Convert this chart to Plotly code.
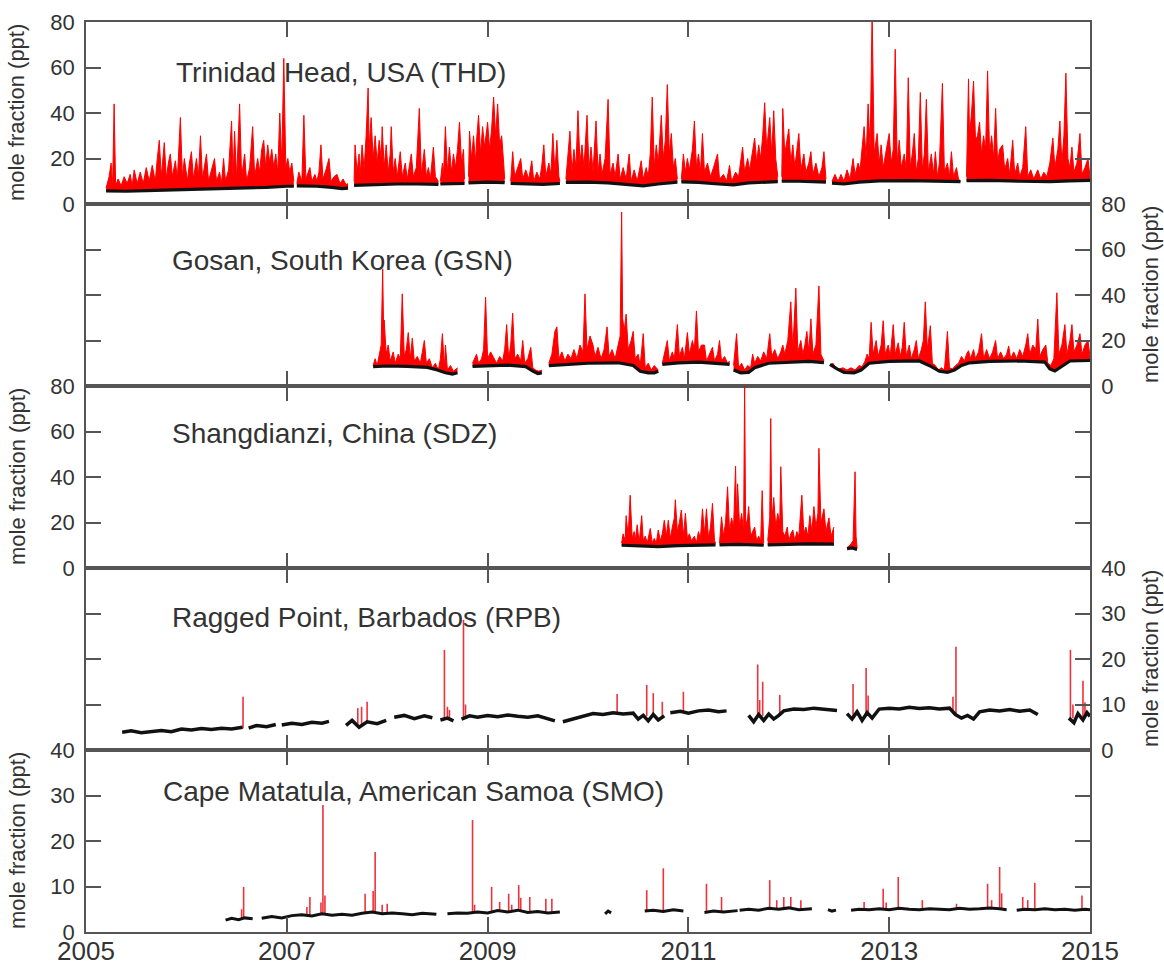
import plotly.graph_objects as go

# ---------------- data (decimal year, mole fraction ppt) ----------------
year_ticks = [2005, 2007, 2009, 2011, 2013, 2015]
site_titles = ["Trinidad Head, USA (THD)", "Gosan, South Korea (GSN)", "Shangdianzi, China (SDZ)",
               "Ragged Point, Barbados (RPB)", "Cape Matatula, American Samoa (SMO)"]
y_max = [80, 80, 80, 40, 40]
y_step = [20, 20, 20, 10, 10]

# Trinidad Head: baseline (black) and full record (red); None = data gap
thd_base = [(2005.20, 5.8), (2005.4, 5.6), (2005.6, 5.9), (2005.8, 6.1), (2006.0, 6.3), (2006.2, 6.5), (2006.4, 6.6),
            (2006.6, 6.9), (2006.8, 7.3), (2007.0, 7.8), (2007.07, 7.8), None,
            (2007.10, 8.0), (2007.3, 7.8), (2007.45, 7.3), (2007.55, 6.8), (2007.61, 7.0), None,
            (2007.67, 8.2), (2007.9, 8.6), (2008.1, 8.8), (2008.3, 8.8), (2008.51, 8.6), None,
            (2008.53, 8.8), (2008.65, 8.8), (2008.77, 9.0), None,
            (2008.81, 9.3), (2009.0, 9.6), (2009.17, 9.4), None,
            (2009.23, 9.0), (2009.4, 8.8), (2009.55, 8.6), (2009.72, 9.0), None,
            (2009.78, 9.5), (2010.0, 9.6), (2010.2, 9.3), (2010.4, 8.6), (2010.55, 8.0), (2010.7, 8.8), (2010.89, 9.6), None,
            (2010.93, 9.7), (2011.1, 9.5), (2011.3, 8.8), (2011.45, 8.4), (2011.6, 9.3), (2011.89, 9.8), None,
            (2011.93, 10.0), (2012.1, 10.0), (2012.37, 9.6), None,
            (2012.43, 9.2), (2012.55, 8.8), (2012.7, 9.6), (2012.9, 10.2), (2013.2, 10.3), (2013.5, 10.0), (2013.71, 9.8), None,
            (2013.77, 10.3), (2014.0, 10.4), (2014.3, 10.0), (2014.6, 9.8), (2014.8, 10.2), (2015.0, 10.4)]

thd_red = [(2005.20, 7), (2005.23, 12), (2005.25, 18), (2005.265, 8), (2005.28, 44), (2005.295, 8), (2005.32, 11),
           (2005.35, 8), (2005.38, 12), (2005.41, 9), (2005.44, 13), (2005.46, 8), (2005.48, 15), (2005.51, 9),
           (2005.54, 14), (2005.57, 9), (2005.60, 16), (2005.63, 10), (2005.66, 17), (2005.69, 10), (2005.71, 20),
           (2005.73, 28), (2005.75, 12), (2005.78, 27), (2005.80, 11), (2005.82, 18), (2005.84, 22), (2005.86, 12),
           (2005.89, 19), (2005.91, 11), (2005.94, 38), (2005.96, 12), (2005.98, 20), (2006.01, 10), (2006.03, 18),
           (2006.05, 23), (2006.07, 11), (2006.10, 20), (2006.12, 12), (2006.14, 30), (2006.16, 11), (2006.18, 17),
           (2006.20, 22), (2006.22, 10), (2006.25, 15), (2006.28, 20), (2006.30, 10), (2006.33, 14), (2006.35, 9),
           (2006.37, 20), (2006.39, 10), (2006.42, 15), (2006.45, 36.5), (2006.465, 12), (2006.48, 32), (2006.50, 11),
           (2006.53, 44), (2006.55, 12), (2006.58, 22), (2006.60, 10), (2006.63, 16), (2006.66, 34), (2006.68, 12),
           (2006.71, 20), (2006.73, 14), (2006.75, 24), (2006.77, 28), (2006.79, 16), (2006.81, 26), (2006.83, 18),
           (2006.85, 24), (2006.87, 16), (2006.89, 22), (2006.91, 14), (2006.93, 40), (2006.95, 18), (2006.97, 64),
           (2006.99, 16), (2007.01, 20), (2007.03, 14), (2007.05, 18), (2007.07, 10), None,
           (2007.10, 9), (2007.12, 14), (2007.15, 10), (2007.17, 39), (2007.19, 11), (2007.21, 14), (2007.23, 16),
           (2007.25, 10), (2007.28, 13), (2007.30, 10), (2007.32, 14), (2007.34, 26), (2007.36, 11), (2007.39, 15),
           (2007.42, 20), (2007.44, 10), (2007.47, 12), (2007.50, 13), (2007.53, 9), (2007.56, 11), (2007.59, 8.5),
           (2007.61, 9), None,
           (2007.67, 10), (2007.68, 26), (2007.70, 14), (2007.72, 22), (2007.73, 12), (2007.75, 26), (2007.77, 15),
           (2007.79, 30), (2007.81, 51), (2007.82, 25), (2007.84, 38), (2007.86, 20), (2007.88, 30), (2007.90, 18),
           (2007.92, 28), (2007.94, 20), (2007.95, 34), (2007.97, 16), (2007.99, 26), (2008.01, 14), (2008.03, 22),
           (2008.04, 34), (2008.06, 14), (2008.08, 20), (2008.10, 12), (2008.13, 23), (2008.15, 12), (2008.18, 18),
           (2008.20, 11), (2008.22, 17), (2008.24, 22), (2008.26, 12), (2008.29, 16), (2008.32, 42), (2008.34, 13),
           (2008.37, 24), (2008.39, 12), (2008.41, 16), (2008.43, 11), (2008.46, 25), (2008.48, 12), (2008.51, 10), None,
           (2008.53, 10), (2008.55, 18), (2008.56, 12), (2008.58, 34), (2008.60, 14), (2008.62, 25), (2008.64, 14),
           (2008.66, 22), (2008.68, 16), (2008.70, 24), (2008.72, 36), (2008.74, 18), (2008.76, 24), (2008.77, 11), None,
           (2008.81, 12), (2008.82, 32), (2008.84, 20), (2008.86, 30), (2008.88, 18), (2008.89, 28), (2008.91, 39),
           (2008.93, 22), (2008.95, 34), (2008.97, 25), (2009.00, 36), (2009.02, 24), (2009.04, 33), (2009.06, 47),
           (2009.08, 30), (2009.10, 44), (2009.12, 26), (2009.14, 30), (2009.16, 18), (2009.17, 11), None,
           (2009.23, 10), (2009.25, 23), (2009.27, 12), (2009.30, 16), (2009.33, 20), (2009.35, 11), (2009.38, 15),
           (2009.41, 11), (2009.44, 19), (2009.46, 10), (2009.49, 14), (2009.52, 11), (2009.54, 17), (2009.56, 26),
           (2009.58, 12), (2009.61, 18), (2009.63, 13), (2009.65, 31), (2009.67, 14), (2009.69, 28), (2009.71, 12),
           (2009.72, 10), None,
           (2009.78, 11), (2009.80, 22), (2009.82, 32), (2009.84, 14), (2009.86, 24), (2009.88, 16), (2009.90, 41),
           (2009.92, 18), (2009.94, 26), (2009.96, 16), (2009.99, 39), (2010.01, 15), (2010.03, 25), (2010.05, 14),
           (2010.08, 36.5), (2010.10, 14), (2010.12, 22), (2010.14, 13), (2010.17, 20), (2010.20, 46), (2010.22, 13),
           (2010.25, 18), (2010.27, 12), (2010.30, 22), (2010.32, 11), (2010.35, 16), (2010.38, 11), (2010.41, 22),
           (2010.43, 10), (2010.46, 15), (2010.49, 10), (2010.53, 19), (2010.55, 11), (2010.58, 16), (2010.60, 12),
           (2010.62, 22), (2010.64, 47), (2010.66, 16), (2010.68, 26), (2010.70, 18), (2010.73, 39), (2010.75, 20),
           (2010.77, 28), (2010.79, 52.5), (2010.81, 22), (2010.83, 31), (2010.85, 16), (2010.87, 20), (2010.89, 11), None,
           (2010.93, 11), (2010.95, 22), (2010.97, 14), (2010.99, 20), (2011.01, 15), (2011.04, 24), (2011.06, 36.5),
           (2011.08, 16), (2011.10, 22), (2011.12, 14), (2011.14, 31), (2011.16, 14), (2011.19, 18), (2011.22, 12),
           (2011.25, 16), (2011.29, 22), (2011.31, 11), (2011.35, 13), (2011.38, 10), (2011.41, 17), (2011.43, 10),
           (2011.47, 14), (2011.50, 12), (2011.54, 25), (2011.56, 14), (2011.59, 20), (2011.61, 15), (2011.64, 24),
           (2011.66, 29), (2011.68, 18), (2011.70, 26), (2011.72, 20), (2011.74, 30), (2011.76, 44.5), (2011.78, 24),
           (2011.81, 38), (2011.83, 22), (2011.85, 41), (2011.87, 20), (2011.89, 12), None,
           (2011.93, 12), (2011.94, 42), (2011.96, 22), (2011.98, 28), (2012.00, 33), (2012.02, 18), (2012.04, 26),
           (2012.06, 16), (2012.08, 24), (2012.10, 31), (2012.12, 15), (2012.15, 22), (2012.17, 14), (2012.20, 18),
           (2012.22, 23), (2012.24, 13), (2012.27, 18), (2012.30, 12), (2012.33, 16), (2012.35, 23), (2012.37, 11), None,
           (2012.43, 10), (2012.46, 13), (2012.49, 10), (2012.52, 13), (2012.55, 10), (2012.58, 15), (2012.61, 11),
           (2012.64, 20), (2012.66, 13), (2012.69, 18), (2012.71, 15), (2012.73, 24), (2012.75, 34), (2012.77, 20),
           (2012.79, 44), (2012.81, 24), (2012.83, 85), (2012.85, 22), (2012.88, 31), (2012.90, 18), (2012.92, 26),
           (2012.94, 16), (2012.97, 24), (2013.00, 31), (2013.02, 18), (2013.04, 24), (2013.06, 68), (2013.08, 18),
           (2013.10, 28), (2013.12, 16), (2013.15, 22), (2013.17, 15), (2013.19, 55.5), (2013.21, 16), (2013.23, 22),
           (2013.25, 31), (2013.27, 14), (2013.29, 20), (2013.31, 49), (2013.33, 15), (2013.35, 22), (2013.37, 46),
           (2013.39, 14), (2013.42, 22), (2013.44, 13), (2013.46, 23), (2013.48, 12), (2013.50, 18), (2013.53, 53),
           (2013.55, 14), (2013.58, 18), (2013.60, 12), (2013.62, 23), (2013.64, 12), (2013.67, 16), (2013.69, 11),
           (2013.71, 10), None,
           (2013.77, 12), (2013.78, 36), (2013.79, 55), (2013.80, 30), (2013.82, 40), (2013.84, 54), (2013.86, 28),
           (2013.88, 30), (2013.90, 36), (2013.92, 22), (2013.94, 30), (2013.96, 24), (2013.98, 58.5), (2014.00, 22),
           (2014.02, 30), (2014.04, 20), (2014.06, 42), (2014.08, 18), (2014.10, 24), (2014.13, 26), (2014.15, 15),
           (2014.18, 20), (2014.20, 13), (2014.23, 28), (2014.25, 13), (2014.28, 18), (2014.30, 12), (2014.33, 16),
           (2014.36, 34), (2014.38, 12), (2014.41, 15), (2014.44, 11), (2014.48, 15), (2014.51, 11), (2014.54, 14),
           (2014.57, 12), (2014.60, 18), (2014.63, 29), (2014.65, 16), (2014.68, 24), (2014.70, 36.5), (2014.72, 18),
           (2014.74, 30), (2014.76, 57.5), (2014.78, 20), (2014.80, 16), (2014.82, 25), (2014.84, 14), (2014.87, 18),
           (2014.90, 31), (2014.92, 13), (2014.95, 16), (2014.98, 20), (2015.00, 12)]

# Gosan
gsn_base = [(2007.86, 8.5), (2008.0, 8.8), (2008.2, 8.6), (2008.4, 8.2), (2008.5, 7.0), (2008.58, 5.8), (2008.65, 5.2),
            (2008.70, 5.8), None,
            (2008.85, 8.6), (2009.0, 9.0), (2009.2, 9.2), (2009.38, 8.5), (2009.45, 6.5), (2009.5, 5.5), (2009.54, 5.8), None,
            (2009.61, 9.0), (2009.8, 9.6), (2010.0, 10.0), (2010.3, 10.2), (2010.45, 9.0), (2010.52, 6.5), (2010.6, 5.8),
            (2010.66, 5.8), (2010.70, 6.5), None,
            (2010.74, 9.5), (2010.9, 10.2), (2011.1, 10.5), (2011.3, 10.0), (2011.41, 9.5), None,
            (2011.45, 7.0), (2011.52, 5.8), (2011.6, 6.0), (2011.66, 8.0), (2011.8, 10.0), (2012.0, 10.5), (2012.2, 10.8),
            (2012.35, 10.3), None,
            (2012.41, 9.5), (2012.48, 7.5), (2012.55, 6.0), (2012.65, 5.8), (2012.72, 7.0), (2012.8, 10.0), (2013.0, 10.8),
            (2013.3, 11.0), (2013.42, 8.5), (2013.5, 6.5), (2013.58, 6.0), (2013.65, 7.0), (2013.72, 9.0), (2013.8, 10.2),
            (2014.0, 10.8), (2014.3, 11.0), (2014.55, 10.5), (2014.6, 7.5), (2014.65, 6.6), (2014.7, 8.0), (2014.8, 11.0),
            (2015.0, 11.2)]

gsn_red = [(2007.86, 9), (2007.88, 12), (2007.90, 9), (2007.92, 14), (2007.94, 18), (2007.955, 51.5), (2007.965, 22),
           (2007.97, 29), (2007.99, 14), (2008.01, 18), (2008.03, 11), (2008.06, 15), (2008.08, 10), (2008.11, 14),
           (2008.13, 12), (2008.15, 40.5), (2008.17, 13), (2008.19, 16), (2008.21, 23.5), (2008.23, 12), (2008.25, 21),
           (2008.27, 11), (2008.30, 13), (2008.33, 10), (2008.37, 20), (2008.39, 10), (2008.42, 12), (2008.45, 8),
           (2008.48, 10), (2008.51, 7), (2008.53, 12), (2008.55, 23), (2008.57, 8), (2008.58, 18), (2008.60, 7),
           (2008.63, 9), (2008.66, 6.5), (2008.70, 8), None,
           (2008.85, 10), (2008.87, 12), (2008.89, 14), (2008.91, 10), (2008.94, 12), (2008.96, 16), (2008.98, 39),
           (2009.00, 12), (2009.03, 15), (2009.06, 12.5), (2009.09, 10), (2009.12, 13), (2009.15, 11), (2009.17, 16),
           (2009.19, 27), (2009.21, 12), (2009.23, 18), (2009.25, 32), (2009.27, 12), (2009.30, 14), (2009.33, 11),
           (2009.35, 20), (2009.37, 10), (2009.40, 12), (2009.43, 17), (2009.45, 8), (2009.48, 7), (2009.51, 6.5),
           (2009.54, 7), None,
           (2009.61, 10), (2009.64, 14), (2009.67, 24), (2009.69, 26), (2009.71, 12), (2009.74, 15), (2009.77, 11),
           (2009.80, 14), (2009.83, 12), (2009.86, 16), (2009.89, 12), (2009.92, 18), (2009.95, 15), (2009.97, 40.5),
           (2009.99, 16), (2010.02, 22), (2010.05, 18), (2010.07, 13), (2010.10, 17), (2010.13, 12), (2010.16, 16),
           (2010.19, 26), (2010.21, 13), (2010.24, 16), (2010.27, 12), (2010.30, 18), (2010.32, 22), (2010.335, 76.5),
           (2010.345, 30), (2010.36, 24), (2010.38, 31.6), (2010.40, 16), (2010.43, 20), (2010.45, 24), (2010.47, 12),
           (2010.50, 14), (2010.52, 9), (2010.55, 23), (2010.57, 8), (2010.60, 10), (2010.63, 7), (2010.66, 9),
           (2010.70, 7), None,
           (2010.74, 10), (2010.76, 14), (2010.79, 20), (2010.81, 11), (2010.84, 15), (2010.86, 12), (2010.89, 27),
           (2010.91, 13), (2010.94, 17), (2010.96, 12), (2010.99, 23.5), (2011.01, 14), (2011.04, 20), (2011.06, 16),
           (2011.08, 33), (2011.10, 15), (2011.13, 18), (2011.16, 18), (2011.18, 11), (2011.21, 14), (2011.24, 17),
           (2011.26, 11), (2011.29, 14), (2011.31, 20), (2011.33, 11), (2011.36, 13), (2011.39, 10), (2011.41, 11), None,
           (2011.45, 9), (2011.48, 23), (2011.50, 8), (2011.53, 10), (2011.56, 7), (2011.59, 9), (2011.62, 8),
           (2011.64, 14), (2011.66, 10), (2011.69, 13), (2011.72, 11), (2011.75, 15), (2011.78, 12), (2011.81, 23),
           (2011.83, 13), (2011.86, 16), (2011.89, 12), (2011.92, 15), (2011.94, 18), (2011.96, 14), (2011.99, 20),
           (2012.02, 37), (2012.04, 16), (2012.07, 43), (2012.09, 15), (2012.12, 20), (2012.14, 14), (2012.16, 18),
           (2012.18, 24), (2012.20, 15), (2012.22, 29.5), (2012.24, 14), (2012.27, 18), (2012.30, 44), (2012.32, 14),
           (2012.35, 11), None,
           (2012.41, 9), (2012.44, 10), (2012.47, 8), (2012.50, 7.5), (2012.54, 8), (2012.58, 7), (2012.62, 8),
           (2012.66, 7), (2012.70, 9), (2012.73, 8.5), (2012.76, 11), (2012.78, 14), (2012.80, 12), (2012.82, 28),
           (2012.84, 14), (2012.87, 20), (2012.89, 13), (2012.92, 18), (2012.94, 28.7), (2012.96, 14), (2012.99, 18),
           (2013.01, 13), (2013.04, 27), (2013.06, 14), (2013.09, 19), (2013.11, 13), (2013.13, 17), (2013.15, 28),
           (2013.17, 13), (2013.20, 18), (2013.22, 12), (2013.25, 16), (2013.27, 20), (2013.29, 12), (2013.32, 16),
           (2013.34, 20), (2013.36, 37), (2013.38, 16), (2013.41, 26.5), (2013.43, 10), (2013.46, 9), (2013.49, 7),
           (2013.52, 8), (2013.55, 7), (2013.58, 24), (2013.60, 8), (2013.63, 7.5), (2013.66, 9), (2013.69, 10),
           (2013.72, 13), (2013.75, 11), (2013.77, 14), (2013.79, 15.5), (2013.81, 12), (2013.84, 16), (2013.86, 12),
           (2013.89, 15), (2013.92, 23), (2013.94, 12), (2013.97, 16), (2014.00, 12), (2014.03, 15), (2014.06, 20),
           (2014.08, 12), (2014.11, 15), (2014.14, 12), (2014.17, 14), (2014.19, 17.6), (2014.21, 12), (2014.24, 15),
           (2014.27, 12), (2014.30, 16), (2014.33, 13), (2014.36, 18), (2014.38, 23), (2014.40, 14), (2014.43, 18),
           (2014.46, 16), (2014.48, 29.4), (2014.50, 13), (2014.53, 16), (2014.56, 18), (2014.58, 10), (2014.61, 9),
           (2014.64, 12), (2014.67, 41), (2014.69, 14), (2014.72, 18), (2014.75, 27), (2014.77, 14), (2014.80, 20),
           (2014.82, 27), (2014.84, 15), (2014.87, 18), (2014.90, 23), (2014.92, 14), (2014.95, 18), (2014.98, 20),
           (2015.00, 13)]

# Shangdianzi
sdz_base = [(2010.335, 10.0), (2010.5, 9.8), (2010.7, 9.4), (2010.9, 9.8), (2011.1, 10.0), (2011.27, 10.2), None,
            (2011.31, 10.2), (2011.5, 10.4), (2011.75, 10.0), None,
            (2011.79, 10.2), (2012.0, 10.5), (2012.2, 10.6), (2012.45, 10.5), None,
            (2012.58, 8.5), (2012.63, 8.8), (2012.68, 8.2)]

sdz_red = [(2010.335, 11), (2010.35, 15), (2010.37, 12), (2010.38, 23), (2010.40, 14), (2010.42, 32), (2010.44, 13),
           (2010.46, 16), (2010.47, 12), (2010.49, 19), (2010.51, 11), (2010.535, 23), (2010.55, 12), (2010.57, 14),
           (2010.59, 11), (2010.62, 17.4), (2010.64, 11), (2010.66, 13), (2010.68, 11), (2010.70, 16.7), (2010.72, 12),
           (2010.74, 15), (2010.76, 21), (2010.78, 14), (2010.80, 21), (2010.82, 13), (2010.84, 18), (2010.86, 22),
           (2010.87, 30), (2010.89, 16), (2010.91, 20), (2010.93, 25.5), (2010.95, 14), (2010.97, 24), (2010.99, 13),
           (2011.01, 15), (2011.03, 12), (2011.06, 14), (2011.08, 11), (2011.10, 16), (2011.12, 13), (2011.14, 26),
           (2011.16, 15), (2011.18, 26), (2011.20, 13), (2011.22, 18), (2011.24, 28.4), (2011.26, 12), (2011.27, 11), None,
           (2011.31, 11), (2011.33, 22.5), (2011.35, 14), (2011.37, 20), (2011.39, 35.7), (2011.41, 16), (2011.43, 22),
           (2011.45, 18), (2011.47, 44.8), (2011.48, 20), (2011.49, 37), (2011.51, 18), (2011.53, 24), (2011.55, 16),
           (2011.56, 82), (2011.57, 18), (2011.59, 22), (2011.60, 27), (2011.62, 14), (2011.64, 16), (2011.66, 18),
           (2011.68, 12), (2011.70, 14), (2011.72, 12), (2011.735, 34), (2011.75, 11), None,
           (2011.79, 12), (2011.81, 22), (2011.82, 65.7), (2011.83, 20), (2011.85, 31), (2011.87, 18), (2011.89, 24),
           (2011.91, 20), (2011.92, 44.5), (2011.94, 16), (2011.96, 14), (2011.985, 18), (2012.00, 12), (2012.02, 15),
           (2012.04, 16.7), (2012.06, 12), (2012.08, 16), (2012.10, 14), (2012.13, 32), (2012.15, 15), (2012.17, 18),
           (2012.19, 14), (2012.21, 23), (2012.23, 16), (2012.25, 27), (2012.27, 18), (2012.29, 24), (2012.30, 52.6),
           (2012.32, 20), (2012.35, 26), (2012.37, 16), (2012.40, 22), (2012.42, 14), (2012.45, 18), None,
           (2012.58, 9), (2012.61, 10), (2012.64, 12), (2012.66, 42.3), (2012.67, 14), (2012.68, 9)]

# Ragged Point: baseline and pollution events (year, low, high)
rpb_base = [(2005.36, 3.9), (2005.45, 4.2), (2005.55, 3.8), (2005.65, 4.1), (2005.75, 4.3), (2005.85, 4.0), (2005.95, 4.6),
            (2006.05, 4.4), (2006.15, 4.7), (2006.25, 4.5), (2006.35, 4.8), (2006.45, 4.6), (2006.56, 5.0), None,
            (2006.62, 4.8), (2006.7, 5.4), (2006.8, 5.1), (2006.89, 5.6), None,
            (2006.95, 5.5), (2007.05, 5.9), (2007.15, 5.6), (2007.25, 6.1), (2007.35, 5.9), (2007.42, 6.3), None,
            (2007.59, 5.4), (2007.65, 6.5), (2007.72, 5.0), (2007.8, 6.2), (2007.9, 5.8), (2007.99, 6.5), None,
            (2008.07, 7.2), (2008.17, 7.6), (2008.27, 6.9), (2008.37, 7.5), (2008.45, 7.1), None,
            (2008.53, 6.6), (2008.6, 7.0), (2008.66, 6.4), None,
            (2008.74, 6.8), (2008.82, 7.5), (2008.9, 7.2), (2009.0, 7.6), (2009.1, 7.3), (2009.2, 7.7), (2009.3, 7.4),
            (2009.4, 7.2), (2009.5, 7.5), (2009.6, 6.9), (2009.67, 6.4), None,
            (2009.75, 6.2), (2009.85, 6.8), (2009.95, 7.4), (2010.05, 8.0), (2010.15, 7.8), (2010.25, 8.2), (2010.35, 7.9),
            (2010.45, 8.1), (2010.5, 6.8), (2010.55, 7.6), (2010.6, 6.4), (2010.65, 7.8), (2010.7, 6.6), (2010.76, 7.5), None,
            (2010.82, 8.2), (2010.92, 8.5), (2011.0, 8.1), (2011.1, 8.6), (2011.2, 8.8), (2011.3, 8.4), (2011.38, 8.6), None,
            (2011.6, 7.6), (2011.65, 6.2), (2011.7, 7.8), (2011.75, 6.5), (2011.8, 7.9), (2011.85, 6.8), (2011.9, 7.6),
            (2011.95, 8.6), (2012.05, 9.0), (2012.15, 8.9), (2012.25, 9.2), (2012.35, 9.0), (2012.48, 8.7), None,
            (2012.58, 8.0), (2012.63, 6.8), (2012.68, 8.4), (2012.73, 6.5), (2012.78, 8.2), (2012.83, 7.0), (2012.9, 9.0),
            (2013.0, 9.2), (2013.1, 9.0), (2013.2, 9.4), (2013.3, 9.1), (2013.4, 9.3), (2013.5, 9.0), (2013.6, 9.2),
            (2013.66, 7.8), (2013.72, 7.0), (2013.78, 7.6), (2013.84, 6.8), (2013.9, 8.4), (2014.0, 8.8), (2014.1, 8.6),
            (2014.2, 8.9), (2014.3, 8.5), (2014.4, 8.8), (2014.48, 7.8), None,
            (2014.79, 7.0), (2014.84, 6.0), (2014.88, 8.0), (2014.93, 6.6), (2014.97, 8.2), (2015.0, 7.4)]

rpb_events = [(2006.564, 4.8, 11.7), (2007.707, 5.5, 9.2), (2007.745, 5.5, 9.5), (2007.80, 5.8, 10.6),
              (2008.57, 6.6, 22.0), (2008.60, 6.6, 9.5), (2008.62, 6.6, 8.8), (2008.76, 6.8, 28.6), (2008.78, 6.8, 10.0),
              (2010.29, 8.0, 12.3), (2010.585, 7.5, 14.3), (2010.65, 7.5, 12.5), (2010.74, 7.5, 10.6),
              (2010.95, 8.4, 12.8), (2011.69, 7.5, 18.8), (2011.71, 7.5, 11.0), (2011.74, 7.5, 15.0),
              (2011.91, 7.6, 12.1), (2012.64, 7.5, 14.5), (2012.77, 7.5, 18.0), (2012.79, 7.5, 12.0),
              (2013.635, 8.0, 11.7), (2013.665, 8.0, 22.7), (2014.805, 7.0, 22.0), (2014.83, 7.0, 10.0),
              (2014.93, 7.0, 15.2), (2014.95, 7.0, 10.5)]

# Cape Matatula
smo_base = [(2006.39, 2.6), (2006.45, 3.0), (2006.52, 2.7), (2006.58, 3.1), (2006.66, 2.9), None,
            (2006.75, 3.0), (2006.85, 3.4), (2006.95, 3.1), (2007.05, 3.6), (2007.15, 3.8), (2007.25, 3.5), (2007.35, 4.0),
            (2007.45, 3.7), (2007.55, 3.9), (2007.65, 3.7), (2007.75, 4.1), (2007.85, 4.4), (2007.95, 4.0), (2008.05, 4.2),
            (2008.15, 4.0), (2008.25, 3.8), (2008.35, 4.1), (2008.49, 3.9), None,
            (2008.60, 4.0), (2008.7, 4.2), (2008.8, 4.1), (2008.9, 4.4), (2009.0, 4.2), (2009.1, 4.7), (2009.2, 4.4),
            (2009.3, 4.8), (2009.4, 4.3), (2009.5, 4.5), (2009.6, 4.2), (2009.72, 4.4), None,
            (2010.17, 4.0), (2010.2, 4.6), (2010.23, 4.2), None,
            (2010.565, 4.6), (2010.65, 4.8), (2010.75, 4.5), (2010.85, 4.9), (2010.95, 4.6), None,
            (2011.16, 4.3), (2011.25, 4.6), (2011.35, 4.4), (2011.49, 4.7), None,
            (2011.51, 4.8), (2011.6, 5.0), (2011.7, 4.8), (2011.8, 5.2), (2011.9, 5.0), (2012.0, 5.3), (2012.1, 4.9),
            (2012.23, 5.1), None,
            (2012.39, 4.9), (2012.43, 4.6), (2012.47, 4.8), None,
            (2012.62, 4.8), (2012.7, 5.0), (2012.8, 4.9), (2012.9, 5.1), (2013.0, 4.9), (2013.1, 5.2), (2013.2, 5.0),
            (2013.3, 4.9), (2013.4, 5.1), (2013.5, 5.0), (2013.6, 4.9), (2013.7, 5.2), (2013.8, 5.0), (2013.9, 5.1),
            (2014.0, 5.3), (2014.1, 5.1), (2014.17, 4.9), None,
            (2014.27, 4.8), (2014.35, 5.0), (2014.45, 4.9), (2014.55, 5.1), (2014.65, 4.9), (2014.75, 5.0), (2014.85, 4.8),
            (2014.95, 5.0), (2015.0, 4.9)]

smo_events = [(2006.55, 3.0, 5.0), (2006.57, 3.0, 9.9), (2007.20, 3.6, 5.5), (2007.23, 3.6, 7.7), (2007.34, 3.8, 6.5),
              (2007.36, 3.8, 27.9), (2007.38, 3.8, 8.0), (2007.78, 4.0, 8.4), (2007.86, 4.2, 9.0), (2007.88, 4.2, 17.6),
              (2007.95, 4.0, 6.0), (2008.0, 4.0, 6.2), (2008.85, 4.3, 24.6), (2008.87, 4.3, 6.0), (2009.04, 4.4, 9.9),
              (2009.12, 4.6, 6.6), (2009.21, 4.4, 8.4), (2009.24, 4.4, 6.0), (2009.31, 4.6, 10.3), (2009.33, 4.6, 7.5),
              (2009.42, 4.3, 7.7), (2009.58, 4.2, 7.3), (2009.64, 4.2, 7.3), (2010.585, 4.6, 9.2), (2010.75, 4.5, 14.0),
              (2011.18, 4.3, 10.6), (2011.33, 4.4, 7.7), (2011.81, 5.0, 11.4), (2011.88, 5.0, 7.0), (2011.95, 5.0, 7.7),
              (2012.02, 5.0, 7.7), (2012.12, 5.0, 7.0), (2012.75, 4.9, 6.6), (2012.94, 4.9, 9.5), (2012.97, 4.9, 6.5),
              (2013.09, 5.0, 12.1), (2013.33, 4.9, 7.0), (2013.67, 5.0, 6.2), (2013.98, 5.1, 10.6), (2014.02, 5.2, 7.0),
              (2014.10, 5.1, 14.3), (2014.12, 5.1, 8.5), (2014.33, 5.0, 7.7), (2014.38, 5.0, 7.0), (2014.45, 4.9, 10.8),
              (2014.92, 4.9, 8.0)]

# ---------------- helpers ----------------
RED = "rgb(255,0,0)"
SPIKE = "rgb(238,50,60)"
BLACK = "#111111"
AXC = "#555555"
TXT = "#333333"
FONT = "Liberation Sans, Arial, Helvetica, sans-serif"


def segments(pairs):
    segs, cur = [], []
    for p in pairs:
        if p is None:
            if cur:
                segs.append(cur)
            cur = []
        else:
            cur.append(p)
    if cur:
        segs.append(cur)
    return segs


def flat(pairs):
    xs, ys = [], []
    for p in pairs:
        if p is None:
            xs.append(None)
            ys.append(None)
        else:
            xs.append(p[0])
            ys.append(p[1])
    return xs, ys


fig = go.Figure()

panels = [
    dict(base=thd_base, red=thd_red, events=None, bw=3.2),
    dict(base=gsn_base, red=gsn_red, events=None, bw=3.2),
    dict(base=sdz_base, red=sdz_red, events=None, bw=3.2),
    dict(base=rpb_base, red=None, events=rpb_events, bw=3.5),
    dict(base=smo_base, red=None, events=smo_events, bw=3),
]

for i, p in enumerate(panels):
    n = i + 1
    xa = "x" if n == 1 else f"x{n}"
    ya = "y" if n == 1 else f"y{n}"
    if p["red"] is not None:
        for bseg, rseg in zip(segments(p["base"]), segments(p["red"])):
            fig.add_trace(go.Scatter(x=[q[0] for q in bseg], y=[q[1] for q in bseg], mode="lines",
                                     line=dict(width=0, color="rgba(0,0,0,0)"), xaxis=xa, yaxis=ya,
                                     hoverinfo="skip", showlegend=False))
            fig.add_trace(go.Scatter(x=[q[0] for q in rseg], y=[q[1] for q in rseg], mode="lines",
                                     line=dict(width=1, color=RED), fill="tonexty", fillcolor=RED,
                                     xaxis=xa, yaxis=ya, showlegend=False))
    if p["events"] is not None:
        ex, ey = [], []
        for t, lo, hi in p["events"]:
            ex += [t, t, None]
            ey += [lo, hi, None]
        fig.add_trace(go.Scatter(x=ex, y=ey, mode="lines", line=dict(width=1.6, color=SPIKE),
                                 xaxis=xa, yaxis=ya, showlegend=False, connectgaps=False))
    bx, by = flat(p["base"])
    fig.add_trace(go.Scatter(x=bx, y=by, mode="lines", line=dict(width=p["bw"], color=BLACK),
                             xaxis=xa, yaxis=ya, showlegend=False, connectgaps=False))

# the page body margin is removed (post_script below), so the figure fills the window exactly
layout = dict(width=1164, height=965, margin=dict(l=86, r=74, t=22, b=33, autoexpand=False),
              paper_bgcolor="white", plot_bgcolor="white", showlegend=False,
              font=dict(family=FONT, color=TXT))

domains = [[0.8, 1.0], [0.6, 0.8], [0.4, 0.6], [0.2, 0.4], [0.0, 0.2]]
sides = ["left", "right", "left", "right", "left"]
annotations = []
title_pos = [(2005.88, 58), (2005.84, 55), (2005.84, 59), (2005.84, 29.2), (2005.75, 30.8)]
for i in range(5):
    n = i + 1
    xk = "xaxis" if n == 1 else f"xaxis{n}"
    yk = "yaxis" if n == 1 else f"yaxis{n}"
    layout[xk] = dict(domain=[0, 1], anchor="y" if n == 1 else f"y{n}", range=[2005, 2015],
                      tickvals=year_ticks, ticktext=[str(v) for v in year_ticks], automargin=False,
                      showticklabels=(n == 5), ticks="inside", ticklen=15, tickwidth=2, tickcolor=AXC,
                      showline=True, linecolor=AXC, linewidth=1.8, mirror="ticks", showgrid=False,
                      zeroline=False, ticklabelstandoff=-5, tickfont=dict(size=26, color=TXT, family=FONT))
    tv = list(range(0, y_max[i] + 1, y_step[i]))
    layout[yk] = dict(domain=domains[i], anchor="x" if n == 1 else f"x{n}", range=[0, y_max[i]],
                      tickvals=tv, ticktext=[str(v) for v in tv], side=sides[i], automargin=False,
                      ticks="inside", ticklen=15, tickwidth=2, tickcolor=AXC,
                      showline=True, linecolor=AXC, linewidth=1.8, mirror="ticks", showgrid=False,
                      zeroline=False, ticklabelstandoff=5, tickfont=dict(size=22, color=TXT, family=FONT))
    xa = "x" if n == 1 else f"x{n}"
    ya = "y" if n == 1 else f"y{n}"
    annotations.append(dict(text=site_titles[i], x=title_pos[i][0], y=title_pos[i][1], xref=xa, yref=ya,
                            xanchor="left", yanchor="middle", showarrow=False,
                            font=dict(size=28, color=TXT, family=FONT)))
    mid = (domains[i][0] + domains[i][1]) / 2
    if sides[i] == "left":
        annotations.append(dict(text="mole fraction (ppt)", x=0, y=mid, xref="paper", yref="paper",
                                xshift=-69, textangle=-90, showarrow=False, xanchor="center", yanchor="middle",
                                font=dict(size=22, color=TXT, family=FONT)))
    else:
        annotations.append(dict(text="mole fraction (ppt)", x=1, y=mid, xref="paper", yref="paper",
                                xshift=60, textangle=-90, showarrow=False, xanchor="center", yanchor="middle",
                                font=dict(size=22, color=TXT, family=FONT)))
layout["annotations"] = annotations
fig.update_layout(**layout)

fig.write_html("out.html", config={"displayModeBar": False},
               post_script="document.body.style.margin='0px';")
